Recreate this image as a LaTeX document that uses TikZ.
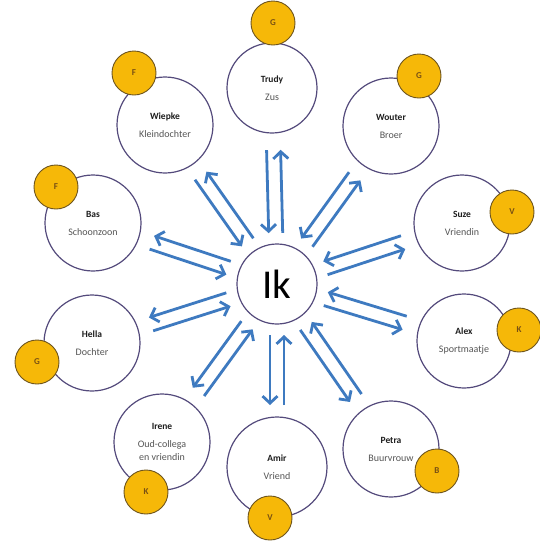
\documentclass[tikz,border=0pt]{standalone}
\usepackage{fontspec}
\setmainfont{Carlito}
\usetikzlibrary{calc,arrows.meta}
\definecolor{arrowblue}{RGB}{62,122,192}
\definecolor{ringline}{RGB}{84,74,124}
\definecolor{goldfill}{RGB}{246,184,8}
\definecolor{goldline}{RGB}{110,85,30}
\definecolor{goldtext}{RGB}{120,80,20}
\definecolor{nametext}{RGB}{30,30,30}
\definecolor{roletext}{RGB}{85,85,85}
\newcommand\pname[1]{{\color{nametext}\bfseries\fontsize{9.5}{11}\selectfont #1}\\[5pt]}
\begin{document}
\begin{tikzpicture}[x=1pt,y=-1pt,
  person/.style={circle,draw=ringline,line width=1.2pt,fill=white,minimum size=96pt,inner sep=0pt,align=center,font=\fontsize{10}{13}\selectfont,text=roletext},
  badge/.style={circle,draw=goldline,line width=0.9pt,fill=goldfill,minimum size=44pt,inner sep=0pt,font=\bfseries\fontsize{9}{10}\selectfont,text=goldtext},
  me/.style={circle,draw=ringline,line width=1.2pt,fill=white,minimum size=80pt,inner sep=0pt,font=\fontsize{41}{41}\selectfont},
  link/.style={draw=arrowblue,line width=2.8pt,-{Straight Barb[length=7pt,width=15pt]}}]
\useasboundingbox (0,0) rectangle (540,542);
\fill[white] (0,0) rectangle (540,542);

\node[me] (ik) at (277,284) {Ik};

\node[person,minimum size=90pt] (trudy) at (272,88) {\pname{Trudy}Zus};
\node[person] (wiepke) at (165,125) {\pname{Wiepke}Kleindochter};
\node[person] (wouter) at (391,126) {\pname{Wouter}Broer};
\node[person] (bas) at (93,223) {\pname{Bas}Schoonzoon};
\node[person] (suze) at (462,223) {\pname{Suze}Vriendin};
\node[person,minimum size=94pt] (alex) at (464,341) {\pname{Alex}Sportmaatje};
\node[person] (hella) at (92,343) {\pname{Hella}Dochter};
\node[person] (irene) at (162,442) {\pname{Irene}Oud-collega\\en vriendin};
\node[person,minimum size=100pt] (amir) at (277,467) {\pname{Amir}Vriend};
\node[person] (petra) at (391,449) {\pname{Petra}Buurvrouw};

\node[badge] (bt) at (273,23) {G};
\node[badge] (bwi) at (134,73) {F};
\node[badge] (bwo) at (419,76) {G};
\node[badge] (bb) at (56,187) {F};
\node[badge] (bs) at (512,212) {V};
\node[badge] (ba) at (519,330) {K};
\node[badge] (bh) at (37,362) {G};
\node[badge] (bi) at (146,492) {K};
\node[badge] (bam) at (270,518) {V};
\node[badge] (bp) at (437,471) {B};

\foreach \n in {trudy,wiepke,wouter,bas,suze,alex,hella,irene,amir,petra}{
  % inward arrow (left of outward direction)
  \draw[link] ($(\n)!62pt!(ik)!7pt!-90:(ik)$) -- ($(ik)!51pt!(\n)!7pt!90:(\n)$);
  % outward arrow (right of outward direction)
  \draw[link] ($(ik)!51pt!(\n)!7pt!-90:(\n)$) -- ($(\n)!62pt!(ik)!7pt!90:(ik)$);
}
\end{tikzpicture}
\end{document}
